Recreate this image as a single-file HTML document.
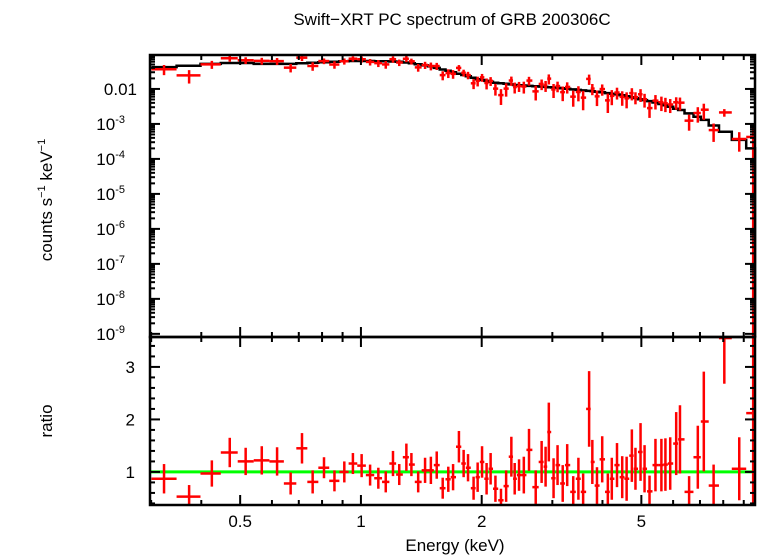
<!DOCTYPE html>
<html><head><meta charset="utf-8"><style>
body{margin:0;background:#fff;}
svg{display:block;font-family:"Liberation Sans",sans-serif;}
</style></head><body>
<svg id="c" width="758" height="556">
<text x="452" y="25" text-anchor="middle" font-size="17">Swift−XRT PC spectrum of GRB 200306C</text>
<text transform="translate(52,200) rotate(-90)" text-anchor="middle" font-size="17">counts s<tspan font-size="11" dy="-7">−1</tspan><tspan dy="7"> keV</tspan><tspan font-size="11" dy="-7">−1</tspan></text>
<text transform="translate(52,421) rotate(-90)" text-anchor="middle" font-size="17">ratio</text>
<text x="455" y="551" text-anchor="middle" font-size="17">Energy (keV)</text>
<g id="g"></g>
</svg>
<script>
const energies=[0.323,0.373,0.425,0.471,0.516,0.566,0.618,0.668,0.713,0.758,0.809,0.859,0.909,0.955,1.004,1.054,1.105,1.153,1.202,1.246,1.298,1.336,1.389,1.445,1.494,1.545,1.599,1.651,1.697,1.755,1.803,1.849,1.909,1.954,2.004,2.057,2.105,2.164,2.234,2.301,2.371,2.417,2.478,2.547,2.624,2.727,2.821,2.886,2.940,3.021,3.091,3.184,3.267,3.382,3.484,3.580,3.705,3.774,3.876,3.994,4.125,4.220,4.348,4.480,4.595,4.735,4.834,4.977,5.093,5.240,5.422,5.610,5.741,5.901,6.107,6.241,6.577,6.914,7.156,7.570,8.05,8.77,9.50];
const ratios=[0.87,0.53,0.97,1.37,1.20,1.22,1.20,0.78,1.45,0.81,1.08,0.83,1.00,1.16,1.12,0.94,0.88,0.81,1.16,0.95,1.28,1.14,0.81,1.03,1.03,1.13,0.69,0.86,0.90,1.48,1.16,1.08,0.69,0.90,1.19,0.87,1.06,0.68,0.46,0.73,1.29,0.87,0.94,0.94,1.42,0.71,1.19,1.10,1.76,0.88,1.13,0.78,1.13,0.62,0.87,0.62,2.20,1.19,0.74,1.24,0.62,0.87,1.13,0.90,0.87,1.31,1.06,1.38,1.06,0.63,1.13,1.13,1.14,1.16,1.54,1.62,0.62,1.28,1.96,0.74,3.55,1.06,2.12];
const ratioErr=[0.28,0.22,0.25,0.28,0.26,0.27,0.27,0.21,0.29,0.22,0.2,0.2,0.2,0.2,0.22,0.2,0.2,0.2,0.24,0.2,0.26,0.22,0.2,0.24,0.26,0.26,0.2,0.24,0.25,0.3,0.26,0.26,0.22,0.28,0.3,0.3,0.3,0.25,0.22,0.3,0.38,0.3,0.3,0.35,0.4,0.32,0.4,0.38,0.56,0.38,0.38,0.35,0.4,0.3,0.4,0.35,0.72,0.42,0.35,0.44,0.35,0.4,0.42,0.4,0.42,0.5,0.4,0.55,0.45,0.3,0.5,0.5,0.5,0.5,0.6,0.65,0.3,0.6,0.95,0.4,0.87,0.6,2.5];
const model=[0.042,0.046,0.052,0.055,0.055,0.052,0.052,0.052,0.054,0.056,0.058,0.06,0.062,0.063,0.063,0.063,0.062,0.062,0.061,0.06,0.057,0.054,0.051,0.047,0.044,0.040,0.036,0.033,0.030,0.027,0.025,0.023,0.021,0.019,0.018,0.017,0.016,0.015,0.0145,0.014,0.0135,0.013,0.0128,0.0125,0.0122,0.012,0.0117,0.0114,0.0112,0.011,0.0107,0.0104,0.0101,0.0097,0.0094,0.0091,0.0088,0.0086,0.0083,0.008,0.0076,0.0073,0.007,0.0066,0.0062,0.0058,0.0055,0.0051,0.0048,0.0045,0.0041,0.0037,0.0034,0.0031,0.0027,0.0025,0.002,0.0016,0.0013,0.0009,0.0006,0.00035,0.0002];
const xTickLabels=["0.5","1","2","5"];
const xTickVals=[0.5,1,2,5];

const NS="http://www.w3.org/2000/svg";
const g=document.getElementById('g');
const X0=150,X1=755,EMIN=0.298,EMAX=9.6;
const xs=e=>X0+(Math.log10(e)-Math.log10(EMIN))/(Math.log10(EMAX)-Math.log10(EMIN))*(X1-X0);
const TT=55,TB=337,LTOP=-1.03,LBOT=-9.09;
const yt=v=>v<=0?TB:Math.min(TB,TT+(LTOP-Math.log10(v))/(LTOP-LBOT)*(TB-TT));
const BT=337,BB=505,RMIN=0.37,RMAX=3.57;
const yb=r=>Math.max(BT,Math.min(BB,BB-(r-RMIN)/(RMAX-RMIN)*(BB-BT)));
function el(t,a){const e=document.createElementNS(NS,t);for(const k in a)e.setAttribute(k,a[k]);g.appendChild(e);return e;}
function ln(x1,y1,x2,y2,c,w){return el('line',{x1,y1,x2,y2,stroke:c,'stroke-width':w});}

// bin edges
const n=energies.length,lo=[],hi=[];
for(let i=0;i<n;i++){
  const l=i>0?Math.sqrt(energies[i-1]*energies[i]):energies[0]*energies[0]/Math.sqrt(energies[0]*energies[1]);
  const h=i<n-1?Math.sqrt(energies[i]*energies[i+1]):EMAX;
  lo.push(l);hi.push(h);
}
// model step line
let d='';
for(let i=0;i<n;i++){d+=(i?'L':'M')+xs(lo[i]).toFixed(1)+','+yt(model[i]).toFixed(1)+'L'+xs(hi[i]).toFixed(1)+','+yt(model[i]).toFixed(1);}
d+='L'+X1+','+TB;
const mp=el('path',{d,fill:'none',stroke:'#000','stroke-width':2.5});


// green line
const gl=ln(X0,yb(1),X1,yb(1),'#00ff00',3);


for(let i=0;i<n;i++){
  const c=model[i]*ratios[i],ce=model[i]*ratioErr[i];
  const gr=document.createElementNS(NS,'g');g.appendChild(gr);
  
  
  const add=(x1,y1,x2,y2)=>{const l=document.createElementNS(NS,'line');l.setAttribute('x1',x1);l.setAttribute('y1',y1);l.setAttribute('x2',x2);l.setAttribute('y2',y2);l.setAttribute('stroke','#ff0000');l.setAttribute('stroke-width',2.5);gr.appendChild(l);};
  const xc=xs(energies[i]);
  add(xs(lo[i]),yt(c),xs(hi[i]),yt(c));
  add(xc,yt(c+ce),xc,yt(c-ce));
  add(xs(lo[i]),yb(ratios[i]),xs(hi[i]),yb(ratios[i]));
  add(xc,yb(ratios[i]+ratioErr[i]),xc,yb(ratios[i]-ratioErr[i]));
}
// frames
[[TT,TB],[BT,BB]].forEach(([a,b],k)=>{const r=el('rect',{x:X0,y:a,width:X1-X0,height:b-a,fill:'none',stroke:'#000','stroke-width':2.5});
});
// x ticks
const minorE=[0.3,0.4,0.6,0.7,0.8,0.9,3,4,6,7,8,9];
function xt(e,L){const x=xs(e);[[TT,1],[TB,-1],[BT,1],[BB,-1]].forEach(([y,s])=>ln(x,y,x,y+s*L,'#000',2));}
minorE.forEach(e=>xt(e,5));xTickVals.forEach(e=>xt(e,10));
xTickVals.forEach((e,i)=>{const t=el('text',{x:xs(e),y:527,'text-anchor':'middle','font-size':17});t.textContent=xTickLabels[i];
});
// top y ticks
for(let p=-9;p<=-2;p++){for(let m=1;m<10;m++){const v=m*Math.pow(10,p);const y=yt(v);if(y<=TT||y>=TB)continue;const L=m==1?10:5;ln(X0,y,X0+L,y,'#000',2);ln(X1,y,X1-L,y,'#000',2);}
 const t=el('text',{x:p==-2?137:128,y:yt(Math.pow(10,p))+6,'text-anchor':'end','font-size':17});
 if(p==-2)t.textContent='0.01';else t.innerHTML='10<tspan font-size="11" dy="-7">'+p+'</tspan>';
 if(p!=-2){t.setAttribute('x',125);}
 }
// ratio ticks
for(let r=0.4;r<3.57;r+=0.2){const y=yb(r);const maj=Math.abs(r-Math.round(r))<0.01;const L=maj?10:5;ln(X0,y,X0+L,y,'#000',2);ln(X1,y,X1-L,y,'#000',2);}
[1,2,3].forEach(r=>{const t=el('text',{x:135,y:yb(r)+6,'text-anchor':'end','font-size':17});t.textContent=r;
});
</script>
</body></html>
